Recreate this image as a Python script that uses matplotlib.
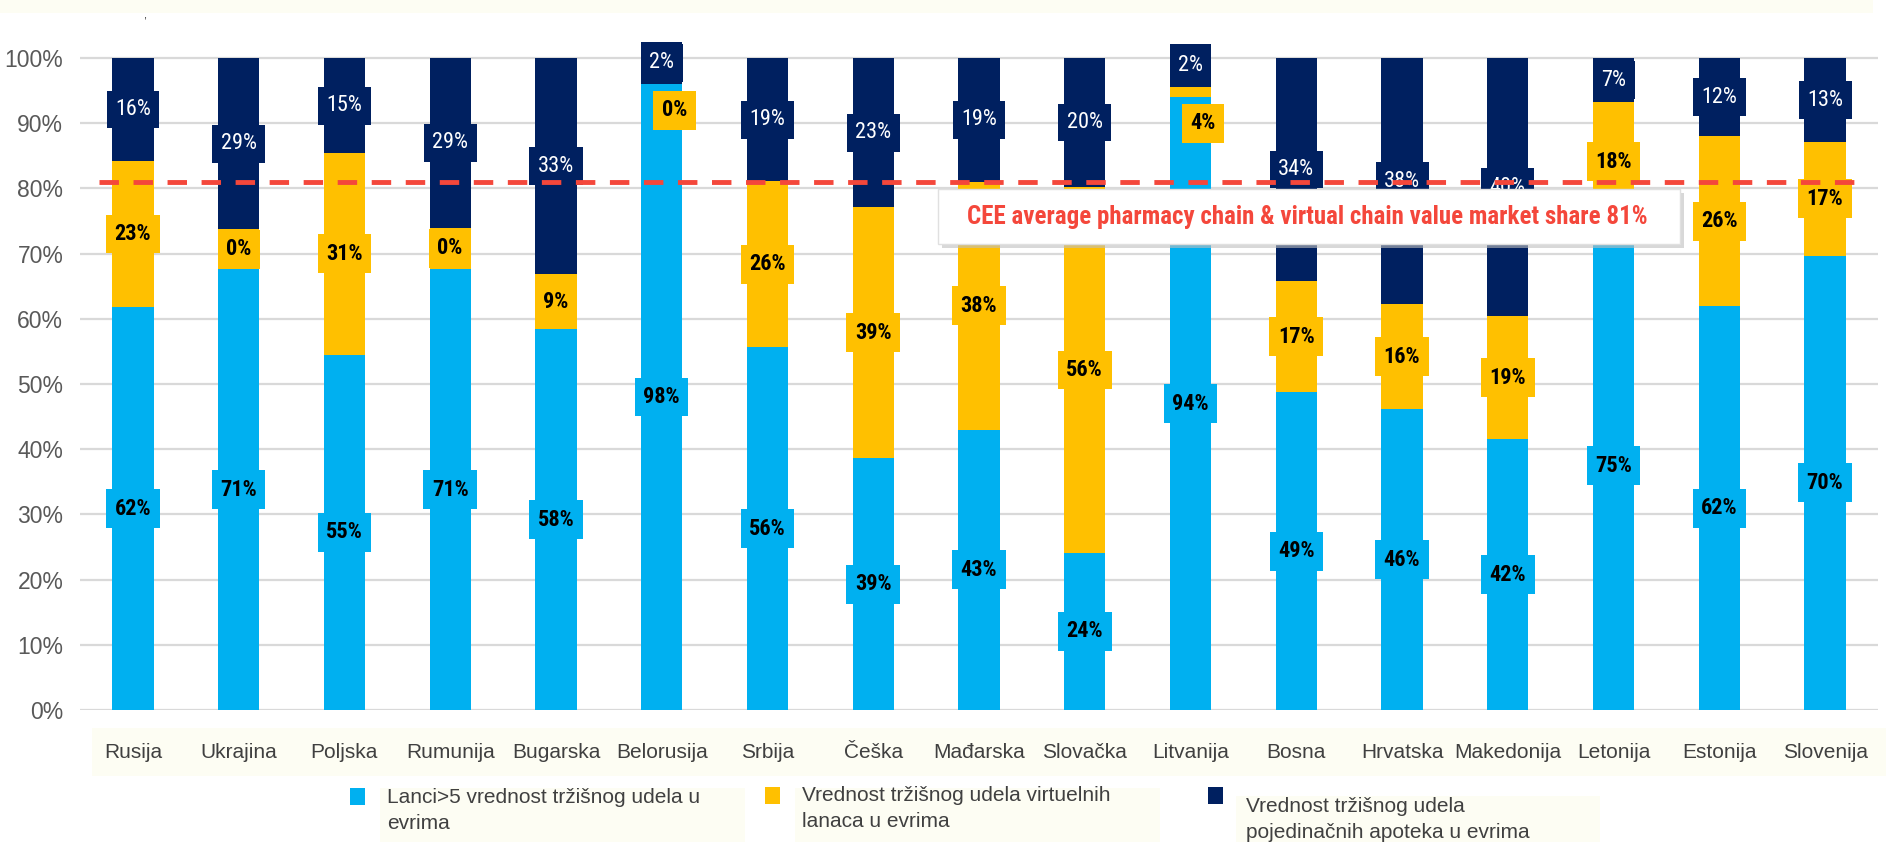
import matplotlib
matplotlib.use("Agg")
import matplotlib.pyplot as plt
from matplotlib import font_manager
from matplotlib.patches import Rectangle
import numpy as np

# ---------------- data ----------------
countries = ["Rusija", "Ukrajina", "Poljska", "Rumunija", "Bugarska", "Belorusija",
             "Srbija", "Češka", "Mađarska", "Slovačka", "Litvanija", "Bosna",
             "Hrvatska", "Makedonija", "Letonija", "Estonija", "Slovenija"]

# segment heights as drawn (share of stacked bar, %)
chains = [61.8, 67.6, 54.5, 67.6, 58.4, 96.0, 55.6, 38.6, 43.0, 24.1, 94.0, 48.7,
          46.1, 41.5, 75.0, 61.9, 69.7]
virtual = [22.4, 6.1, 30.9, 6.4, 8.4, 0.0, 25.5, 38.5, 38.0, 56.1, 1.5, 17.1,
           16.1, 18.9, 18.2, 26.1, 17.4]
single = [15.8, 26.3, 14.6, 26.0, 33.2, 6.5, 18.9, 22.9, 19.0, 19.8, 6.7, 34.2,
          37.8, 39.6, 6.8, 12.0, 12.9]

# data labels as printed on the chart
chains_lbl = [62, 71, 55, 71, 58, 98, 56, 39, 43, 24, 94, 49, 46, 42, 75, 62, 70]
virtual_lbl = [23, 0, 31, 0, 9, 0, 26, 39, 38, 56, 4, 17, 16, 19, 18, 26, 17]
single_lbl = [16, 29, 15, 29, 33, 2, 19, 23, 19, 20, 2, 34, 38, 40, 7, 12, 13]

cee_average = 81
yticks = [0, 10, 20, 30, 40, 50, 60, 70, 80, 90, 100]

series_names = ["Lanci>5 vrednost tržišnog udela u\nevrima",
                "Vrednost tržišnog udela virtuelnih\nlanaca u evrima",
                "Vrednost tržišnog udela\npojedinačnih apoteka u evrima"]
annotation_text = "CEE average pharmacy chain & virtual chain value market share 81%"

# ---------------- style ----------------
C_CYAN = "#00B0F0"
C_YEL = "#FFC000"
C_NAVY = "#002060"
C_RED = "#F4473B"
C_CREAM = "#FDFDF3"

available = {f.name for f in font_manager.fontManager.ttflist}
narrow = "Liberation Sans"
for cand in ["Liberation Sans Narrow", "Roboto Condensed", "Open Sans Condensed",
             "DejaVu Sans Condensed", "Liberation Sans"]:
    if cand in available:
        narrow = cand
        break
plt.rcParams["font.family"] = ["Liberation Sans", "DejaVu Sans"]

W, H = 1886, 842
fig = plt.figure(figsize=(W / 100, H / 100), dpi=100)
fig.patch.set_facecolor("white")

# background bands (cream)
fig.patches.append(Rectangle((0, 1 - 13 / H), 1873 / W, 13 / H, transform=fig.transFigure,
                             facecolor=C_CREAM, edgecolor="none", zorder=0))
fig.patches.append(Rectangle((92 / W, 1 - 776 / H), 1 - 92 / W, 48 / H, transform=fig.transFigure,
                             facecolor=C_CREAM, edgecolor="none", zorder=0))
for x0, x1, y0 in [(380, 745, 788), (795, 1160, 788), (1236, 1600, 796)]:
    fig.patches.append(Rectangle((x0 / W, 0), (x1 - x0) / W, (H - y0) / H, transform=fig.transFigure,
                                 facecolor=C_CREAM, edgecolor="none", zorder=0))

YTOP = 104
ax = fig.add_axes([80 / W, (H - 710) / H, 1798 / W, YTOP * 6.52 / H])
ax.set_zorder(1)
ax.set_facecolor("none")
x = np.arange(len(countries))
bw = 0.39

chains_a = np.array(chains)
virtual_a = np.array(virtual)
single_a = np.array(single)

ax.bar(x, chains_a, bw, color=C_CYAN, zorder=2)
ax.bar(x, virtual_a, bw, bottom=chains_a, color=C_YEL, zorder=2)
ax.bar(x, single_a, bw, bottom=chains_a + virtual_a, color=C_NAVY, zorder=2)

ax.set_xlim(-0.5, len(countries) - 0.5)
ax.set_ylim(0, YTOP)
ax.set_yticks(yticks)
ax.set_yticklabels([f"{v}%" for v in yticks])
ax.set_xticks(x)
ax.set_xticklabels(countries)
ax.tick_params(axis="y", length=0, pad=12, labelsize=16.5, labelcolor="#595959")
ax.tick_params(axis="x", length=0, pad=24, labelsize=15, labelcolor="#404040")
for s in ax.spines.values():
    s.set_visible(False)
ax.yaxis.grid(True, color="#D9D9D9", lw=1.6, zorder=0)
ax.set_axisbelow(True)

lblfs = 16
for i in range(len(countries)):
    c, v, n = chains[i], virtual[i], single[i]
    ax.text(x[i], c / 2, f"{chains_lbl[i]}%", ha="center", va="center", fontsize=lblfs,
            family=narrow, weight="bold", color="black", zorder=3,
            bbox=dict(boxstyle="square,pad=0.38", fc=C_CYAN, ec="none"))
    if v < 3:
        vx, vy = x[i] + 0.12, c - 4
    else:
        vx, vy = x[i], c + v / 2
    ax.text(vx, vy, f"{virtual_lbl[i]}%", ha="center", va="center", fontsize=lblfs,
            family=narrow, weight="bold", color="black", zorder=3,
            bbox=dict(boxstyle="square,pad=0.38", fc=C_YEL, ec="none"))
    ax.text(x[i], c + v + n / 2, f"{single_lbl[i]}%", ha="center", va="center", fontsize=lblfs,
            family=narrow, color="white", zorder=3,
            bbox=dict(boxstyle="square,pad=0.38", fc=C_NAVY, ec="none"))

# CEE average dashed line
ax.plot([-0.32, 16.28], [cee_average, cee_average], color=C_RED, lw=3.5,
        dashes=(4, 3), zorder=4, solid_capstyle="butt")

# annotation box
bx0, bx1, by0, by1 = 938, 1680, 189, 244
fig.patches.append(Rectangle(((bx0 + 4) / W, (H - by1 - 4) / H), (bx1 - bx0) / W, (by1 - by0) / H,
                             transform=fig.transFigure, facecolor="#BFBFBF", edgecolor="none",
                             alpha=0.6, zorder=5))
fig.patches.append(Rectangle((bx0 / W, (H - by1) / H), (bx1 - bx0) / W, (by1 - by0) / H,
                             transform=fig.transFigure, facecolor="white", edgecolor="#E0E0E0",
                             lw=1, zorder=6))
fig.text(1307 / W, 1 - 217 / H, annotation_text, ha="center", va="center", fontsize=18,
         family=narrow, weight="bold", color=C_RED, zorder=7)

# legend (manual)
legend_items = [
    (C_CYAN, 350, 788, 387, 788),
    (C_YEL, 765, 787, 802, 786),
    (C_NAVY, 1208, 787, 1246, 797),
]
for (col, mx, my, tx, ty), name in zip(legend_items, series_names):
    fig.patches.append(Rectangle((mx / W, 1 - (my + 17) / H), 15 / W, 17 / H,
                                 transform=fig.transFigure, facecolor=col, edgecolor="none", zorder=3))
    fig.text(tx / W, 1 - ty / H, name, ha="left", va="top", fontsize=15, color="#404040",
             linespacing=1.45, zorder=3)

fig.text(145 / W, 1 - 15 / H, ",", fontsize=8, color="#222222", ha="center", va="center")

fig.savefig("out.png", dpi=100)
